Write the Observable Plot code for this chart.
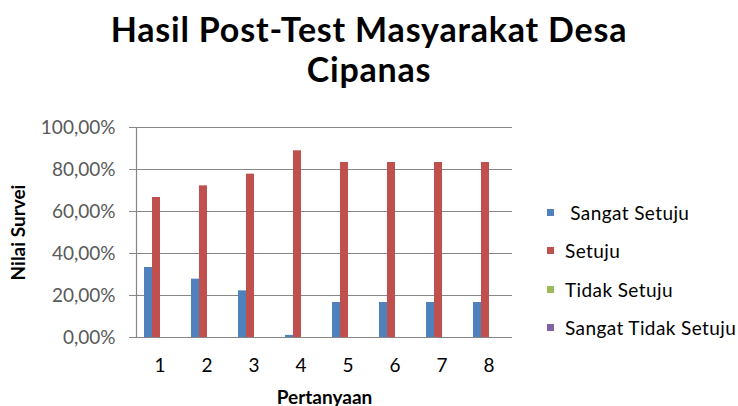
<!DOCTYPE html>
<html>
<head>
<meta charset="utf-8">
<script src="https://cdn.jsdelivr.net/npm/d3@7"></script>
<script src="https://cdn.jsdelivr.net/npm/@observablehq/plot@0.6"></script>
<style>
  html, body { margin: 0; padding: 0; background: #fff; }
  #wrap { position: relative; width: 738px; height: 406px; overflow: hidden; font-family: Lato, "Open Sans", sans-serif; }
  #wrap svg { position: absolute; left: 0; top: 0; }
  #title { position: absolute; left: 0; width: 738px; top: 9px; text-align: center; font-weight: bold; font-size: 34px; letter-spacing: 0.8px; line-height: 40px; color: #000; }
  #legend { position: absolute; left: 547px; top: 193px; font-size: 19px; letter-spacing: 0.4px; color: #000; }
  .item { display: flex; align-items: center; height: 38.5px; white-space: nowrap; }
  .sw { width: 7px; height: 7px; margin-right: 11px; flex: none; }
  g[aria-label="y-axis label"] text, g[aria-label="fx-axis label"] text { font-weight: bold; fill: #000; }
</style>
</head>
<body>
<div id="wrap">
  <div id="title">Hasil Post-Test Masyarakat Desa<br>Cipanas</div>
  <div id="legend"></div>
</div>
<script>
const questions = [1, 2, 3, 4, 5, 6, 7, 8];
const series = ["Sangat Setuju", "Setuju", "Tidak Setuju", "Sangat Tidak Setuju"];
const legendLabels = ["\u00a0Sangat Setuju", "Setuju", "Tidak Setuju", "Sangat Tidak Setuju"];
const colors = ["#4F81BD", "#C0504D", "#9BBB59", "#8064A2"];
const sangatSetuju = [0.3333, 0.2778, 0.2222, 0.01, 0.1667, 0.1667, 0.1667, 0.1667];
const setuju = [0.6667, 0.7222, 0.7778, 0.8889, 0.8333, 0.8333, 0.8333, 0.8333];
const tidakSetuju = [0, 0, 0, 0, 0, 0, 0, 0];
const sangatTidakSetuju = [0, 0, 0, 0, 0, 0, 0, 0];
const yTicks = [0, 0.2, 0.4, 0.6, 0.8, 1];

const valuesBySeries = [sangatSetuju, setuju, tidakSetuju, sangatTidakSetuju];
const data = [];
questions.forEach((q, i) => {
  series.forEach((s, j) => data.push({q, s, v: valuesBySeries[j][i]}));
});

const pct = d3.formatLocale({decimal: ",", thousands: ".", grouping: [3], currency: ["", ""]}).format(".2%");

const chart = Plot.plot({
  width: 738,
  height: 406,
  marginTop: 127,
  marginLeft: 134,
  marginRight: 225,
  marginBottom: 69,
  style: {fontFamily: "Lato, 'Open Sans', sans-serif", fontSize: "19px", color: "#595959", background: "transparent"},
  fx: {domain: questions, padding: 0},
  x: {domain: series, paddingInner: 0, paddingOuter: 0.75, axis: null},
  y: {domain: [0, 1]},
  color: {domain: series, range: colors},
  marks: [
    Plot.ruleY(yTicks, {stroke: "#868686", strokeWidth: 1.2}),
    Plot.frame({anchor: "left", facet: "super", stroke: "#868686", strokeWidth: 1.2}),
    Plot.barY(data, {fx: "q", x: "s", y: "v", fill: "s"}),
    Plot.axisY({ticks: yTicks, tickFormat: pct, tickSize: 7, tickPadding: 14, stroke: "#868686",
      label: "Nilai Survei", labelAnchor: "center", labelOffset: 125, labelArrow: false}),
    Plot.axisFx({anchor: "bottom", tickSize: 0, tickPadding: 21, label: "Pertanyaan", labelAnchor: "center", labelOffset: 66, labelArrow: false, fill: "#000"})
  ]
});
document.getElementById("wrap").appendChild(chart);

const legend = d3.select("#legend");
series.forEach((s, i) => {
  const it = legend.append("div").attr("class", "item");
  it.append("div").attr("class", "sw").style("background", colors[i]);
  it.append("span").text(legendLabels[i]);
});
</script>
</body>
</html>
